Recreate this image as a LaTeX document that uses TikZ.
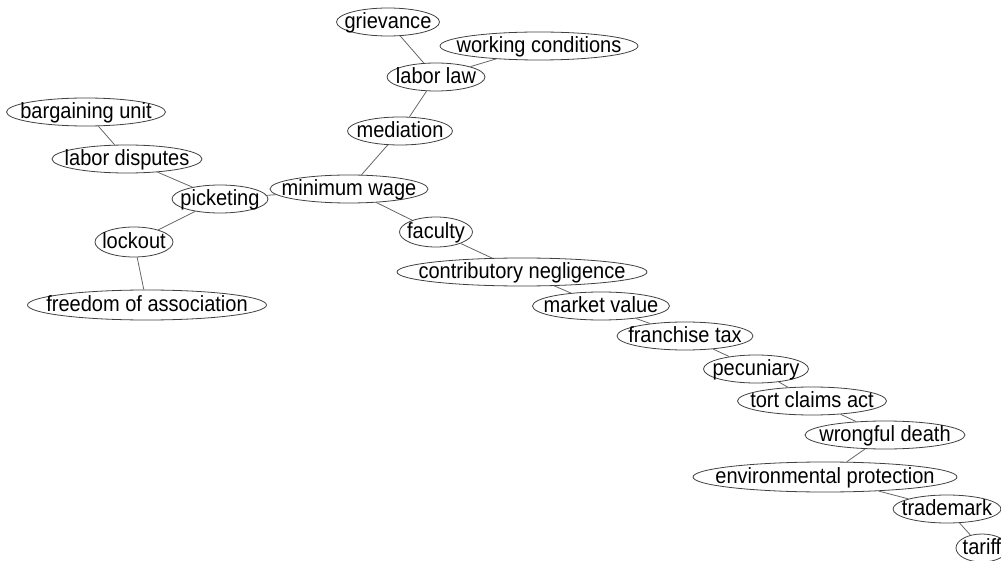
\documentclass[tikz,border=0pt]{standalone}
\usepackage{fontspec}
\setmainfont{Liberation Sans}[FakeStretch=0.91]
\usetikzlibrary{shapes.geometric}

% label with no width of its own, so the ellipse keeps the size it is given
\newcommand\kwlabel[1]{\smash{\makebox[0pt]{\raisebox{-0.28em}{#1}}}}

\tikzset{
  kw/.style={ellipse, draw=black!75, line width=0.8pt, fill=white,
    inner sep=0pt, minimum height=28pt, font=\fontsize{22}{22}\selectfont},
  link/.style={draw=black!60, line width=0.8pt}
}

\begin{document}
\begin{tikzpicture}[x=1pt,y=-1pt]
\useasboundingbox (0,0) rectangle (1001,561);
\clip (0,0) rectangle (1001,561);

% terms
\node[kw, minimum width=103pt] (griev) at (388,22)  {\kwlabel{grievance}};
\node[kw, minimum width=198pt] (work)  at (539,46)  {\kwlabel{working conditions}};
\node[kw, minimum width=98pt]  (llaw)  at (436,77)  {\kwlabel{labor law}};
\node[kw, minimum width=105pt] (med)   at (400,131) {\kwlabel{mediation}};
\node[kw, minimum width=159pt] (bunit) at (86,112)  {\kwlabel{bargaining unit}};
\node[kw, minimum width=150pt] (ldisp) at (127,159) {\kwlabel{labor disputes}};
\node[kw, minimum width=158pt] (minw)  at (349,189) {\kwlabel{minimum wage}};
\node[kw, minimum width=96pt]  (pick)  at (220,199) {\kwlabel{picketing}};
\node[kw, minimum width=78pt, minimum height=30pt] (lock) at (134,242) {\kwlabel{lockout}};
\node[kw, minimum width=239pt, minimum height=30pt] (free) at (147,305) {\kwlabel{freedom of association}};
\node[kw, minimum width=73pt, minimum height=30pt]  (fac)  at (436,232) {\kwlabel{faculty}};
\node[kw, minimum width=250pt] (contr) at (522,272) {\kwlabel{contributory negligence}};
\node[kw, minimum width=137pt] (mval)  at (601,306) {\kwlabel{market value}};
\node[kw, minimum width=136pt] (ftax)  at (685,336) {\kwlabel{franchise tax}};
\node[kw, minimum width=105pt] (pec)   at (756,369) {\kwlabel{pecuniary}};
\node[kw, minimum width=149pt] (tort)  at (812,401) {\kwlabel{tort claims act}};
\node[kw, minimum width=160pt] (wdeath) at (885,435) {\kwlabel{wrongful death}};
\node[kw, minimum width=264pt, minimum height=30pt] (env) at (825,477) {\kwlabel{environmental protection}};
\node[kw, minimum width=108pt] (tmark) at (947,509) {\kwlabel{trademark}};
\node[kw, minimum width=52pt]  (tariff) at (982,548) {\kwlabel{tariff}};

% links between terms
\draw[link] (griev) -- (llaw);
\draw[link] (work) -- (llaw);
\draw[link] (llaw) -- (med);
\draw[link] (med) -- (minw);
\draw[link] (minw) -- (pick);
\draw[link] (pick) -- (ldisp);
\draw[link] (ldisp) -- (bunit);
\draw[link] (pick) -- (lock);
\draw[link] (lock) -- (free);
\draw[link] (minw) -- (fac);
\draw[link] (fac) -- (contr);
\draw[link] (contr) -- (mval);
\draw[link] (mval) -- (ftax);
\draw[link] (ftax) -- (pec);
\draw[link] (pec) -- (tort);
\draw[link] (tort) -- (wdeath);
\draw[link] (wdeath) -- (env);
\draw[link] (env) -- (tmark);
\draw[link] (tmark) -- (tariff);
\end{tikzpicture}
\end{document}
